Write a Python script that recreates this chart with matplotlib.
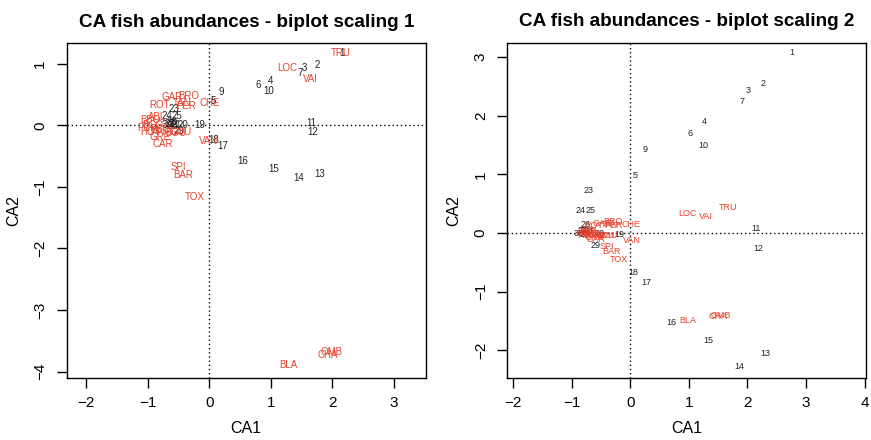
import matplotlib
matplotlib.use("Agg")
import matplotlib.pyplot as plt

plt.rcParams['font.family'] = ['Liberation Sans', 'DejaVu Sans']

# species codes (Doubs fish)
species = ['CHA', 'TRU', 'VAI', 'LOC', 'OMB', 'BLA', 'HOT', 'TOX', 'VAN', 'CHE',
           'BAR', 'SPI', 'GOU', 'BRO', 'PER', 'BOU', 'PSO', 'ROT', 'CAR', 'TAN',
           'BCO', 'PCH', 'GRE', 'GAR', 'BBO', 'ABL', 'ANG']
sites = ['1', '2', '3', '4', '5', '6', '7', '9', '10', '11', '12', '13', '14', '15',
         '16', '17', '18', '19', '20', '21', '22', '23', '24', '25', '26', '27',
         '28', '29', '30']

# scaling 1
sp1_x = [1.93, 2.13, 1.65, 1.27, 1.99, 1.28, -0.95, -0.24, -0.02, 0.01,
         -0.43, -0.50, -0.47, -0.34, -0.38, -0.55, -0.80, -0.81, -0.75, -0.45,
         -0.92, -1.00, -0.80, -0.61, -0.96, -0.85, -0.77]
sp1_y = [-3.73, 1.17, 0.75, 0.94, -3.68, -3.90, -0.10, -1.16, -0.25, 0.36,
         -0.81, -0.68, -0.10, 0.48, 0.32, -0.12, -0.05, 0.33, -0.30, 0.37,
         0.00, -0.04, -0.19, 0.46, 0.09, 0.14, -0.11]
st1_x = [2.15, 1.75, 1.55, 0.99, 0.07, 0.80, 1.47, 0.19, 0.97, 1.66, 1.68, 1.79,
         1.46, 1.04, 0.54, 0.22, 0.07, -0.16, -0.43, -0.54, -0.60, -0.58, -0.69,
         -0.52, -0.60, -0.64, -0.60, -0.49, -0.68]
st1_y = [1.17, 0.98, 0.93, 0.73, 0.39, 0.65, 0.86, 0.55, 0.56, 0.04, -0.10, -0.79,
         -0.86, -0.70, -0.57, -0.33, -0.24, 0.00, 0.01, 0.01, 0.02, 0.27, 0.15,
         0.15, 0.06, 0.02, -0.01, -0.09, 0.00]

# scaling 2
sp2_x = [1.50, 1.67, 1.29, 0.97, 1.54, 0.99, -0.74, -0.19, 0.02, 0.01,
         -0.32, -0.40, -0.39, -0.30, -0.29, -0.43, -0.62, -0.63, -0.58, -0.35,
         -0.71, -0.77, -0.62, -0.47, -0.74, -0.66, -0.60]
sp2_y = [-1.42, 0.44, 0.29, 0.34, -1.40, -1.50, -0.04, -0.45, -0.12, 0.14,
         -0.31, -0.23, -0.05, 0.19, 0.12, -0.05, -0.02, 0.13, -0.11, 0.14,
         0.00, 0.00, -0.07, 0.17, 0.03, 0.05, -0.04]
st2_x = [2.76, 2.26, 2.01, 1.27, 0.08, 1.02, 1.91, 0.25, 1.24, 2.15, 2.18, 2.30,
         1.87, 1.34, 0.70, 0.28, 0.05, -0.18, -0.52, -0.70, -0.78, -0.71, -0.85,
         -0.68, -0.77, -0.82, -0.78, -0.59, -0.88]
st2_y = [3.08, 2.55, 2.43, 1.91, 0.99, 1.69, 2.24, 1.42, 1.50, 0.08, -0.26, -2.05,
         -2.27, -1.83, -1.52, -0.85, -0.67, -0.02, 0.00, 0.03, 0.05, 0.72, 0.39,
         0.39, 0.15, 0.05, -0.02, -0.21, 0.00]

RED = '#E8402A'
DARK = '#222222'

fig = plt.figure(figsize=(8.71, 4.40), dpi=100)
ax1 = fig.add_axes([0.0766, 0.1402, 0.4122, 0.7614])
ax2 = fig.add_axes([0.5824, 0.1402, 0.4115, 0.7630])


def biplot(ax, sx, sy, px, py, fs, title, xlim, ylim, xt, yt):
    ax.axhline(0, color='black', ls=(0, (1, 2)), lw=1)
    ax.axvline(0, color='black', ls=(0, (1, 2)), lw=1)
    for lab, x, y in zip(sites, sx, sy):
        ax.text(x, y, lab, color=DARK, fontsize=fs, ha='center', va='center')
    for lab, x, y in zip(species, px, py):
        ax.text(x, y, lab, color=RED, fontsize=fs, ha='center', va='center')
    ax.set_xlim(xlim)
    ax.set_ylim(ylim)
    ax.set_xticks(xt)
    ax.set_yticks(yt)
    ax.set_xticklabels([str(v).replace('-', '\u2212') for v in xt])
    ax.set_yticklabels([str(v).replace('-', '\u2212') for v in yt],
                       rotation=90, va='center')
    ax.tick_params(axis='x', length=7, width=1, labelsize=11, pad=6)
    ax.tick_params(axis='y', length=7, width=1, labelsize=11, pad=7)
    ax.set_xlabel('CA1', fontsize=11.5, labelpad=8)
    ax.set_ylabel('CA2', fontsize=11.5, labelpad=9)
    ax.set_title(title, fontsize=13.6, fontweight='bold', pad=12)
    for s in ax.spines.values():
        s.set_linewidth(1)


biplot(ax1, st1_x, st1_y, sp1_x, sp1_y, 7,
       'CA fish abundances - biplot scaling 1',
       (-2.32, 3.52), (-4.11, 1.335), range(-2, 4), range(-4, 2))
biplot(ax2, st2_x, st2_y, sp2_x, sp2_y, 6.5,
       'CA fish abundances - biplot scaling 2',
       (-2.10, 4.02), (-2.48, 3.25), range(-2, 5), range(-2, 4))

fig.savefig('out.png', dpi=100)
